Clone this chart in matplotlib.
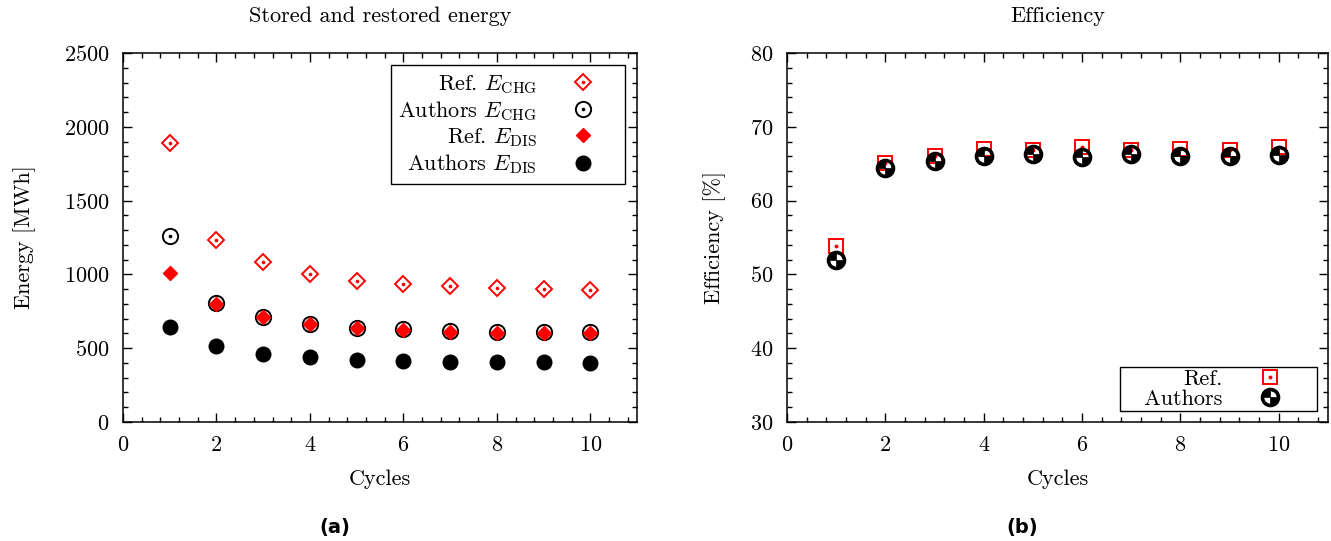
#!/usr/bin/env python3
"""
Stored/restored energy and round-trip efficiency per cycle,
reference values versus the authors' model.
"""

import matplotlib
matplotlib.use("Agg")
import matplotlib.pyplot as plt
from matplotlib.lines import Line2D
from matplotlib.path import Path
from matplotlib.ticker import MultipleLocator

plt.rcParams['font.family'] = 'serif'
plt.rcParams['font.serif'] = ['cmr10', 'DejaVu Serif']
plt.rcParams['mathtext.fontset'] = 'cm'
plt.rcParams['axes.formatter.use_mathtext'] = True
plt.rcParams['font.size'] = 16

cycles = [1, 2, 3, 4, 5, 6, 7, 8, 9, 10]

# energy per cycle [MWh]
ref_chg = [1887, 1236, 1082, 1003, 957, 935, 919, 908, 901, 891]
authors_chg = [1258, 806, 713, 665, 638, 630, 618, 613, 613, 611]
ref_dis = [1012, 801, 711, 667, 636, 625, 613, 606, 600, 602]
authors_dis = [647, 516, 462, 437, 421, 414, 409, 409, 405, 403]

# round-trip efficiency [%]
ref_eff = [53.9, 65.1, 66.0, 67.0, 66.8, 67.3, 66.8, 67.05, 66.8, 67.3]
authors_eff = [51.9, 64.4, 65.4, 66.0, 66.3, 65.9, 66.3, 66.1, 66.05, 66.2]

RED = '#ff0000'
W, H = 1331, 541

# black quadrants (upper-left, lower-right) of the "authors" efficiency marker
quad_path = Path.make_compound_path(Path.wedge(90, 180), Path.wedge(270, 360))


def style_axes(ax, xminor, ymajor, yminor):
    ax.xaxis.set_major_locator(MultipleLocator(2))
    ax.xaxis.set_minor_locator(MultipleLocator(xminor))
    ax.yaxis.set_major_locator(MultipleLocator(ymajor))
    ax.yaxis.set_minor_locator(MultipleLocator(yminor))
    ax.tick_params(which='both', direction='in', top=True, right=True,
                   width=1.0, labelsize=16)
    ax.tick_params(which='major', length=6.5, pad=10)
    ax.tick_params(which='minor', length=3.5)
    for sp in ax.spines.values():
        sp.set_linewidth(1.1)


def right_align_legend(leg):
    # put labels flush right against the markers
    for col in leg._legend_handle_box.get_children():
        col.align = 'right'


def px_axes(x0, x1, y0, y1):
    return [x0 / W, 1 - y1 / H, (x1 - x0) / W, (y1 - y0) / H]


fig = plt.figure(figsize=(W / 100, H / 100), dpi=100)
ax1 = fig.add_axes(px_axes(123, 637, 53, 422))
ax2 = fig.add_axes(px_axes(787, 1328, 53, 422))

# --- (a) stored and restored energy ---
dot = dict(ls='none', marker='o', ms=1.6)
ax1.plot(cycles, ref_chg, ls='none', marker='D', ms=7.8, mfc='none',
         mec=RED, mew=1.4)
ax1.plot(cycles, ref_chg, color=RED, **dot)
ax1.plot(cycles, authors_chg, ls='none', marker='o', ms=11, mfc='none',
         mec='black', mew=1.4)
ax1.plot(cycles, authors_chg, color='black', **dot)
ax1.plot(cycles, ref_dis, ls='none', marker='D', ms=7.4, mfc=RED, mec=RED)
ax1.plot(cycles, authors_dis, ls='none', marker='o', ms=10.5, mfc='black',
         mec='black')

ax1.set_xlim(0, 11)
ax1.set_ylim(0, 2500)
style_axes(ax1, 0.4, 500, 100)
ax1.set_xlabel('Cycles', labelpad=10)
ax1.set_ylabel('Energy [MWh]', labelpad=20)
ax1.set_title('Stored and restored energy', fontsize=16, pad=22)

h_ref_chg = (Line2D([], [], ls='none', marker='D', ms=7.8, mfc='none', mec=RED, mew=1.4),
             Line2D([], [], color=RED, **dot))
h_aut_chg = (Line2D([], [], ls='none', marker='o', ms=11, mfc='none', mec='black', mew=1.4),
             Line2D([], [], color='black', **dot))
h_ref_dis = Line2D([], [], ls='none', marker='D', ms=7.4, mfc=RED, mec=RED)
h_aut_dis = Line2D([], [], ls='none', marker='o', ms=10.5, mfc='black', mec='black')
leg1 = ax1.legend([h_ref_chg, h_aut_chg, h_ref_dis, h_aut_dis],
                  [r'Ref. $E_{\mathrm{CHG}}$', r'Authors $E_{\mathrm{CHG}}$',
                   r'Ref. $E_{\mathrm{DIS}}$', r'Authors $E_{\mathrm{DIS}}$'],
                  loc='upper right', markerfirst=False, fancybox=False,
                  edgecolor='black', framealpha=1, fontsize=16,
                  borderpad=0.35, labelspacing=0.15, handlelength=3.1,
                  handletextpad=0.5, borderaxespad=0.55)
leg1.get_frame().set_linewidth(1.0)
right_align_legend(leg1)

# --- (b) efficiency ---
ax2.plot(cycles, ref_eff, ls='none', marker='s', ms=10.5, mfc='none',
         mec=RED, mew=1.4)
ax2.plot(cycles, ref_eff, color=RED, ls='none', marker='o', ms=1.8)
ax2.plot(cycles, authors_eff, ls='none', marker='o', ms=11.5, mfc='none',
         mec='black', mew=2.6)
ax2.plot(cycles, authors_eff, ls='none', marker=quad_path, ms=10.5,
         mfc='black', mec='black', mew=0.5)

ax2.set_xlim(0, 11)
ax2.set_ylim(30, 80)
style_axes(ax2, 0.4, 10, 2)
ax2.set_xlabel('Cycles', labelpad=10)
ax2.set_ylabel('Efficiency [%]', labelpad=17)
ax2.set_title('Efficiency', fontsize=16, pad=22)

h_ref_eff = (Line2D([], [], ls='none', marker='s', ms=10.5, mfc='none', mec=RED, mew=1.4),
             Line2D([], [], color=RED, ls='none', marker='o', ms=1.8))
h_aut_eff = (Line2D([], [], ls='none', marker='o', ms=11.5, mfc='none', mec='black', mew=2.6),
             Line2D([], [], ls='none', marker=quad_path, ms=10.5, mfc='black',
                    mec='black', mew=0.5))
leg2 = ax2.legend([h_ref_eff, h_aut_eff], ['Ref.', '   Authors'],
                  loc='lower right', markerfirst=False, fancybox=False,
                  edgecolor='black', framealpha=1, fontsize=16,
                  borderpad=0.1, labelspacing=0.0, handlelength=4.0,
                  handletextpad=0.15, borderaxespad=0.5)
leg2.get_frame().set_linewidth(1.0)
right_align_legend(leg2)

# sub-captions
fig.text(335 / W, 1 - 527 / H, '(a)', ha='center', va='center',
         fontsize=14, family='DejaVu Sans', weight='bold')
fig.text(1022 / W, 1 - 527 / H, '(b)', ha='center', va='center',
         fontsize=14, family='DejaVu Sans', weight='bold')

fig.savefig('out.png', dpi=100)
